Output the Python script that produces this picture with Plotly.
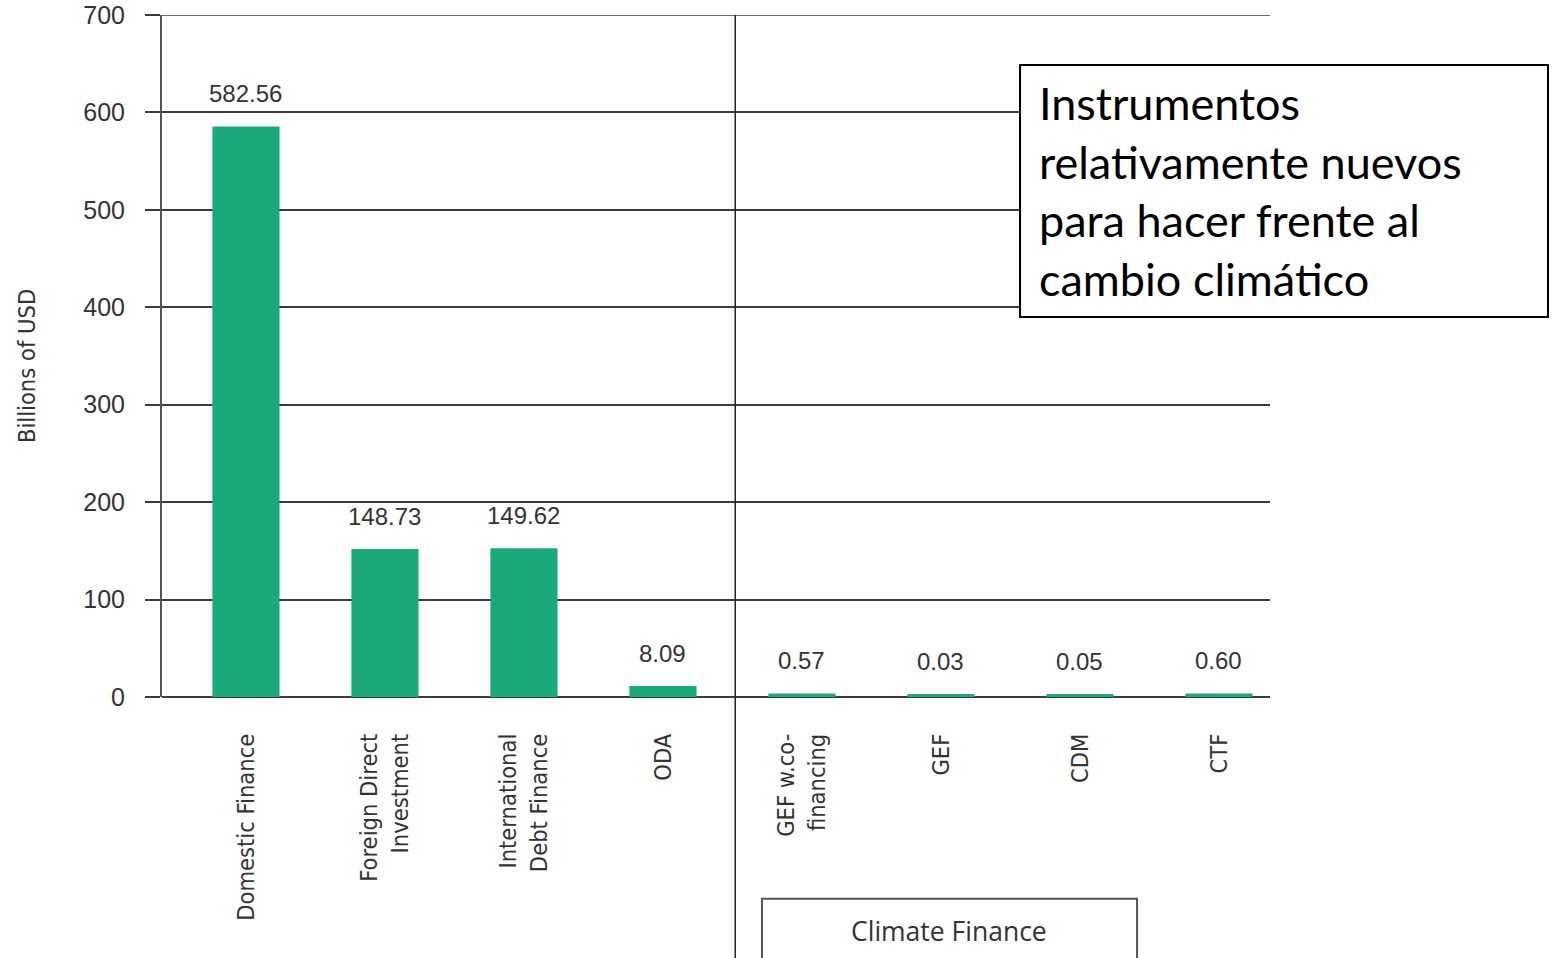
import plotly.graph_objects as go

categories = ["Domestic Finance", "Foreign Direct<br>Investment", "International<br>Debt Finance",
              "ODA", "GEF w.co-<br>financing", "GEF", "CDM", "CTF"]
values = [582.56, 148.73, 149.62, 8.09, 0.57, 0.03, 0.05, 0.60]
y_ticks = [0, 100, 200, 300, 400, 500, 600, 700]
y_title = "Billions of USD"
box_text = "Instrumentos<br>relativamente nuevos<br>para hacer frente al<br>cambio climático"
group_label = "Climate Finance"

GREEN = "#1BA97C"
GRID = "#3c3c3c"
COND = "Liberation Sans Narrow, DejaVu Sans Condensed, Arial Narrow, sans-serif"
REG = "Liberation Sans, Arial, sans-serif"

idx = list(range(len(categories)))

fig = go.Figure()
fig.add_trace(go.Bar(
    x=idx, y=values, width=0.44, cliponaxis=False,
    marker=dict(color=GREEN, line=dict(color=GREEN, width=6)),
    hoverinfo="skip",
))

for i, v in zip(idx, values):
    fig.add_annotation(x=i, y=v, text=f"{v:.2f}", showarrow=False,
                       xanchor="center", yanchor="bottom", yshift=20,
                       font=dict(family=REG, size=24, color="#333333"))

# top gridline (at the last tick)
fig.add_shape(type="line", xref="paper", yref="y", x0=0, x1=1,
              y0=y_ticks[-1], y1=y_ticks[-1], line=dict(color=GRID, width=1.5), layer="below")

# divider between groups
fig.add_shape(type="line", xref="x", yref="paper", x0=3.52, x1=3.52,
              y0=-0.4, y1=1, line=dict(color="#222222", width=1.5), layer="above")

# Climate finance box
fig.add_shape(type="rect", xref="paper", yref="paper", x0=0.5415, x1=0.88,
              y0=-0.296, y1=-0.45, line=dict(color="#555555", width=2), fillcolor="white")
fig.add_annotation(xref="paper", yref="paper", x=0.7103, y=-0.343, text=group_label,
                   showarrow=False, xanchor="center", yanchor="middle",
                   font=dict(family="Open Sans, sans-serif", size=26.5, color="#333333"))

# info box
fig.add_shape(type="rect", xref="paper", yref="paper", x0=0.7744, x1=1.2509,
              y0=0.5572, y1=0.9267, line=dict(color="black", width=2), fillcolor="white",
              layer="above")
fig.add_annotation(xref="paper", yref="paper", x=0.7897, y=0.913, text=box_text,
                   showarrow=False, xanchor="left", yanchor="top", align="left",
                   font=dict(family="Lato, sans-serif", size=45, color="black"))

# y title
fig.add_annotation(xref="paper", yref="paper", x=-0.1218, y=0.4853, text=y_title,
                   textangle=-90, showarrow=False, xanchor="center", yanchor="middle",
                   font=dict(family=COND, size=23.5, color="#333333"))

fig.update_layout(
    width=1552, height=958,
    margin=dict(l=162, r=282, t=15, b=261, pad=0, autoexpand=False),
    plot_bgcolor="white", paper_bgcolor="white",
    showlegend=False,
)
fig.update_xaxes(
    range=[-0.604, 7.367], automargin=False,
    tickmode="array", tickvals=idx, ticktext=categories,
    tickangle=-90, ticks="", showgrid=False, showline=False, zeroline=False,
    ticklabelstandoff=31,
    tickfont=dict(family=COND, size=23.5, color="#333333"),
)
fig.update_yaxes(
    range=[0, 700], tickmode="array", tickvals=y_ticks, automargin=False,
    showgrid=True, gridcolor=GRID, gridwidth=1.5,
    zeroline=True, zerolinecolor=GRID, zerolinewidth=1.5,
    showline=True, linecolor="#555555", linewidth=2,
    ticks="outside", ticklen=15, tickcolor=GRID, tickwidth=1.5,
    ticklabelstandoff=15,
    tickfont=dict(family=REG, size=25, color="#333333"),
)

fig.write_html("out.html", config={"displayModeBar": False},
               post_script="document.body.style.margin='0';")
